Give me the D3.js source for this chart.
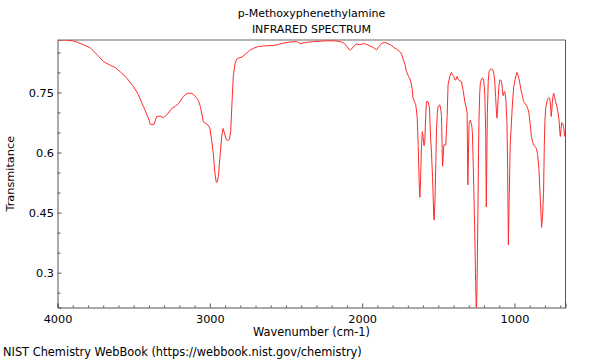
<!DOCTYPE html>
<html>
<head>
<meta charset="utf-8">
<script src="https://cdn.jsdelivr.net/npm/d3@7/dist/d3.min.js"></script>
<style>
  html, body { margin: 0; padding: 0; background: #fff; }
  svg { display: block; font-family: "DejaVu Sans", sans-serif; }
</style>
</head>
<body>
<svg id="chart" width="600" height="360"></svg>
<script>
const titleLines = ["p-Methoxyphenethylamine", "INFRARED SPECTRUM"];
const xLabel = "Wavenumber (cm-1)";
const yLabel = "Transmitance";
const footer = "NIST Chemistry WebBook (https://webbook.nist.gov/chemistry)";

const xMajorTicks = [4000, 3000, 2000, 1000];
const yMajorTicks = [0.3, 0.45, 0.6, 0.75];

const wavenumbers = [
  4000,3950,3900,3873,3830,3786,3760,3730,3698,3654,3620,3589,3550,3502,3470,3436,3410,3399,3392,3380,
  3366,3355,3348,3327,3305,3283,3250,3225,3206,3174,3155,3141,3120,3108,3090,3075,3062,3053,3043,3025,
  3010,2999,2988,2977,2967,2958,2950,2943,2933,2922,2913,2905,2892,2880,2872,2863,2855,2846,2835,2824,
  2810,2791,2775,2758,2740,2715,2680,2649,2620,2584,2550,2518,2470,2430,2408,2365,2320,2277,2230,2190,
  2160,2135,2115,2102,2085,2076,2068,2059,2037,2015,1993,1970,1950,1925,1906,1895,1884,1870,1851,1830,
  1807,1790,1774,1753,1741,1731,1719,1709,1695,1683,1672,1666,1655,1648,1639,1632,1626,1621,1616,1611,
  1605,1600,1594,1589,1584,1578,1567,1558,1551,1545,1538,1530,1527,1522,1516,1512,1506,1502,1490,1483,
  1479,1475,1472,1468,1464,1451,1446,1442,1436,1425,1414,1407,1399,1390,1386,1377,1370,1364,1348,1337,
  1326,1316,1311,1309,1306,1302,1298,1289,1280,1276,1270,1262,1256,1250,1246,1240,1236,1233,1228,1224,
  1215,1211,1202,1195,1189,1185,1181,1178,1172,1167,1158,1152,1141,1135,1130,1124,1119,1115,1111,1108,
  1102,1097,1090,1085,1080,1075,1068,1064,1057,1049,1045,1040,1035,1028,1020,1015,1010,1004,999,990,
  984,978,971,963,955,947,940,930,922,913,905,897,889,880,874,865,856,848,839,830,
  822,816,809,804,800,795,791,785,780,775,768,763,759,755,752,747,743,737,730,722,
  715,707,701,699,694,690,684,678,670
];
const transmittance = [
  0.881,0.881,0.879,0.876,0.869,0.862,0.852,0.840,0.827,0.818,0.812,0.802,0.788,0.765,0.745,0.715,0.692,0.681,0.671,0.670,
  0.671,0.683,0.690,0.691,0.687,0.694,0.710,0.716,0.722,0.740,0.746,0.748,0.748,0.745,0.738,0.730,0.715,0.698,0.677,0.672,
  0.668,0.660,0.630,0.598,0.550,0.526,0.527,0.545,0.590,0.640,0.660,0.650,0.632,0.630,0.633,0.652,0.720,0.790,0.822,0.833,
  0.836,0.838,0.843,0.848,0.855,0.860,0.865,0.866,0.867,0.867,0.870,0.873,0.876,0.877,0.872,0.875,0.877,0.878,0.879,0.879,
  0.878,0.876,0.872,0.866,0.857,0.856,0.859,0.864,0.871,0.869,0.872,0.870,0.866,0.862,0.856,0.862,0.868,0.873,0.875,0.872,
  0.867,0.862,0.858,0.852,0.846,0.833,0.820,0.802,0.790,0.781,0.760,0.736,0.725,0.719,0.690,0.620,0.530,0.488,0.540,0.610,
  0.652,0.640,0.617,0.625,0.680,0.727,0.727,0.712,0.640,0.600,0.540,0.440,0.431,0.480,0.580,0.656,0.700,0.715,0.719,0.705,
  0.690,0.610,0.566,0.590,0.619,0.619,0.660,0.690,0.769,0.790,0.800,0.794,0.790,0.781,0.781,0.790,0.783,0.780,0.777,0.755,
  0.727,0.712,0.700,0.630,0.519,0.600,0.673,0.681,0.665,0.648,0.560,0.420,0.300,0.190,0.260,0.450,0.600,0.681,0.750,0.773,
  0.785,0.786,0.781,0.745,0.656,0.464,0.600,0.698,0.780,0.802,0.808,0.808,0.806,0.795,0.781,0.740,0.706,0.686,0.705,0.731,
  0.765,0.781,0.781,0.777,0.760,0.742,0.750,0.752,0.735,0.673,0.560,0.369,0.480,0.620,0.673,0.710,0.740,0.765,0.777,0.793,
  0.800,0.795,0.785,0.770,0.752,0.740,0.727,0.722,0.718,0.710,0.698,0.672,0.640,0.625,0.619,0.615,0.610,0.595,0.556,0.480,
  0.413,0.440,0.498,0.620,0.680,0.712,0.719,0.730,0.735,0.737,0.735,0.715,0.690,0.705,0.723,0.740,0.748,0.740,0.727,0.715,
  0.702,0.680,0.645,0.640,0.660,0.675,0.673,0.665,0.640
];

const svg = d3.select("#chart");
const L = 57.5, R = 565.5, T = 40, B = 307.5;

const x = d3.scaleLinear().domain([4000, 665]).range([L, R]);
const y = d3.scaleLinear().domain([0.213, 0.881]).range([B, T]);

const axisColor = "#555";

// clip
svg.append("defs").append("clipPath").attr("id", "clip")
  .append("rect").attr("x", L).attr("y", T).attr("width", R - L).attr("height", B - T);

// minor x ticks
const xMinor = d3.range(3900, 665, -100).filter(v => v % 1000 !== 0);
const gxMinor = svg.append("g").attr("transform", `translate(0,${B})`)
  .call(d3.axisBottom(x).tickValues(xMinor).tickSize(-2).tickFormat(""));
gxMinor.select(".domain").remove();
gxMinor.selectAll("line").attr("stroke", axisColor);

// major x ticks
const gx = svg.append("g").attr("transform", `translate(0,${B})`)
  .call(d3.axisBottom(x).tickValues(xMajorTicks).tickSize(-4).tickPadding(7).tickFormat(d3.format("d")));
gx.select(".domain").attr("stroke", axisColor);
gx.selectAll("line").attr("stroke", axisColor);
gx.selectAll("text").attr("font-size", 11.3).attr("font-family", "DejaVu Sans").attr("fill", "#000");

// minor y ticks
const yMinor = [0.25, 0.35, 0.4, 0.5, 0.55, 0.65, 0.7, 0.8, 0.85];
const gyMinor = svg.append("g").attr("transform", `translate(${L},0)`)
  .call(d3.axisLeft(y).tickValues(yMinor).tickSize(-3).tickFormat(""));
gyMinor.select(".domain").remove();
gyMinor.selectAll("line").attr("stroke", axisColor);

// major y ticks
const gy = svg.append("g").attr("transform", `translate(${L},0)`)
  .call(d3.axisLeft(y).tickValues(yMajorTicks).tickSize(-4).tickPadding(3.5).tickFormat(d => String(d)));
gy.select(".domain").attr("stroke", axisColor);
gy.selectAll("line").attr("stroke", axisColor);
gy.selectAll("text").attr("font-size", 11.3).attr("font-family", "DejaVu Sans").attr("fill", "#000");

// top & right frame
svg.append("line").attr("x1", L).attr("x2", R).attr("y1", T).attr("y2", T)
  .attr("stroke", "#999").attr("stroke-width", 1.5);
svg.append("line").attr("x1", R).attr("x2", R).attr("y1", T).attr("y2", B)
  .attr("stroke", axisColor).attr("stroke-width", 1);

// spectrum line
const pts = wavenumbers.map((w, i) => [w, transmittance[i]]);
svg.append("path")
  .datum(pts)
  .attr("clip-path", "url(#clip)")
  .attr("fill", "none")
  .attr("stroke", "#ff2a2a")
  .attr("stroke-width", 1)
  .attr("stroke-linejoin", "round")
  .attr("d", d3.line().x(d => x(d[0])).y(d => y(d[1])));

// titles
svg.append("text").attr("x", (L + R) / 2).attr("y", 17).attr("text-anchor", "middle")
  .attr("font-size", 11).text(titleLines[0]);
svg.append("text").attr("x", (L + R) / 2).attr("y", 33).attr("text-anchor", "middle")
  .attr("font-size", 11).text(titleLines[1]);

svg.append("text").attr("x", (L + R) / 2).attr("y", 336).attr("text-anchor", "middle")
  .attr("font-size", 11.4).text(xLabel);

svg.append("text").attr("transform", `translate(14,${(T + B) / 2}) rotate(-90)`)
  .attr("text-anchor", "middle").attr("font-size", 11.3).text(yLabel);

svg.append("text").attr("x", 3).attr("y", 356).attr("font-size", 11.4).text(footer);
</script>
</body>
</html>
